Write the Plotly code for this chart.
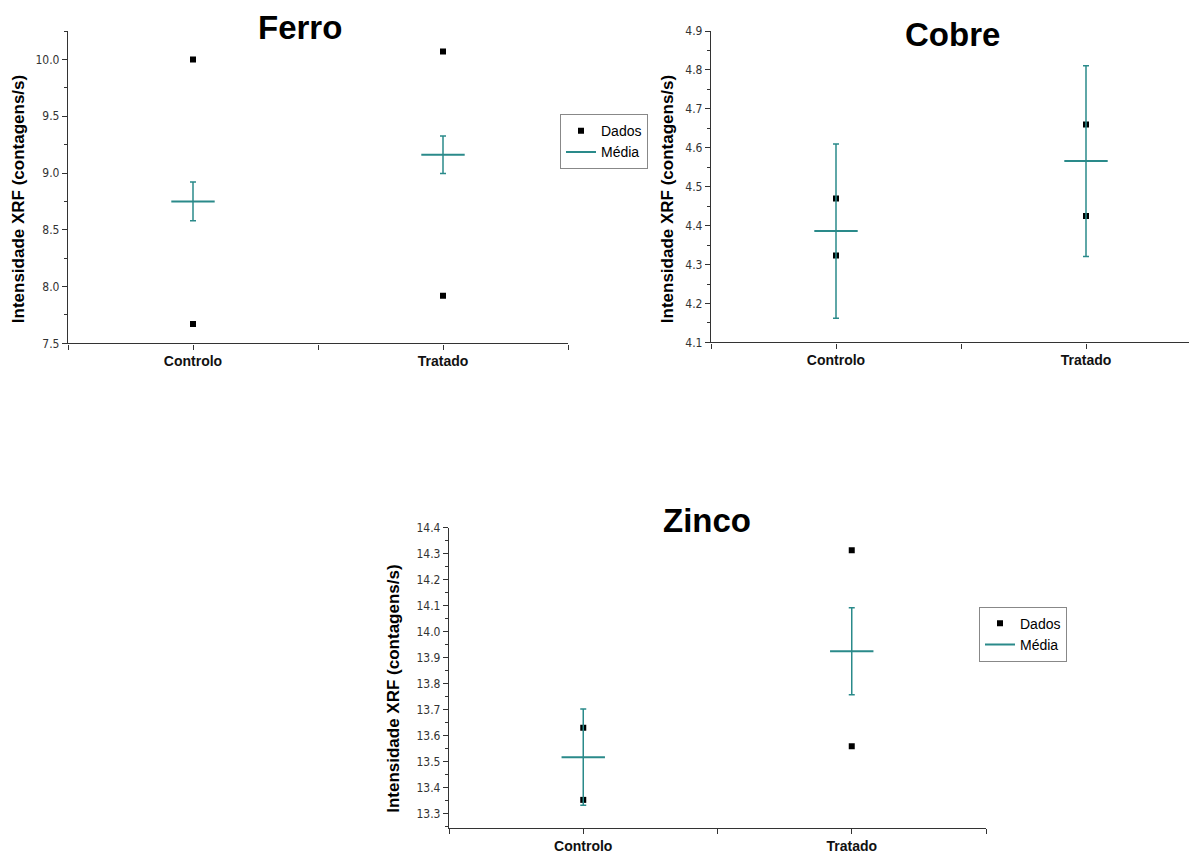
import plotly.graph_objects as go

W, H = 1189, 854

categories = ["Controlo", "Tratado"]

# Ferro
ferro_dados = [[10.00, 7.67], [10.07, 7.92]]
ferro_media = [8.75, 9.16]
ferro_erro = [0.17, 0.165]

# Cobre
cobre_dados = [[4.470, 4.323], [4.660, 4.425]]
cobre_media = [4.386, 4.566]
cobre_erro = [0.224, 0.245]

# Zinco
zinco_dados = [[13.631, 13.354], [14.313, 13.560]]
zinco_media = [13.518, 13.925]
zinco_erro = [0.185, 0.167]

TEAL = "#2a8a8a"
AXC = "#333333"
TICKFONT = dict(family="DejaVu Sans Condensed, Liberation Sans Narrow, sans-serif", size=12, color="#333333")
XTICKFONT = dict(family="Liberation Sans, Arial, sans-serif", size=14, color="#111111", weight="bold")

# the rendered figure occupies image rows 8..846
TOP, PH = 8, 838


def px_x(p):
    return p / W


def px_y(p):
    return 1 - (p - TOP) / PH


fig = go.Figure()

panels = [
    ("Ferro", ferro_dados, ferro_media, ferro_erro, "x", "y", (68, 568), (32, 344), [0.5, 2.5], [7.5, 10.25], 0.5, 0.25, ".1f", "legend"),
    ("Cobre", cobre_dados, cobre_media, cobre_erro, "x2", "y2", (711, 1189), (32, 343), [0.5, 0.5 + (1189 - 711) / 250], [4.1, 4.9], 0.1, 0.05, ".1f", None),
    ("Zinco", zinco_dados, zinco_media, zinco_erro, "x3", "y3", (449, 986), (528, 828), [0.5, 2.5], [13.246, 14.4], 0.1, 0.05, ".1f", "legend2"),
]

xpos = [i + 1 for i in range(len(categories))]

for (name, dados, media, erro, xa, ya, xd, yd, xr, yr, dt, mdt, fmt, leg) in panels:
    px_list, py_list = [], []
    for i, vals in enumerate(dados):
        for v in vals:
            px_list.append(xpos[i])
            py_list.append(v)
    fig.add_trace(go.Scatter(
        x=px_list, y=py_list, mode="markers", xaxis=xa, yaxis=ya,
        marker=dict(symbol="square", size=6, color="black"),
        name="Dados", showlegend=False, hoverinfo="skip",
    ))
    fig.add_trace(go.Scatter(
        x=xpos, y=media, mode="markers", xaxis=xa, yaxis=ya,
        marker=dict(symbol="line-ew", size=31, color=TEAL, line=dict(color=TEAL, width=2)),
        error_y=dict(type="data", array=erro, visible=True, color=TEAL, thickness=1.5, width=3),
        name="Média", showlegend=False, hoverinfo="skip",
    ))
    if leg:
        fig.add_trace(go.Scatter(
            x=[None], y=[None], mode="markers", xaxis=xa, yaxis=ya,
            marker=dict(symbol="square", size=6, color="black"),
            name="Dados", legend=leg,
        ))
        fig.add_trace(go.Scatter(
            x=[None], y=[None], mode="lines", xaxis=xa, yaxis=ya,
            line=dict(color=TEAL, width=2),
            name="Média", legend=leg,
        ))

    xkey = "xaxis" + xa[1:]
    ykey = "yaxis" + ya[1:]
    fig.layout[xkey] = dict(
        domain=[px_x(xd[0]), px_x(xd[1])], range=xr, anchor=ya,
        tickvals=[0.5, 1, 1.5, 2, 2.5],
        ticktext=["", categories[0], "", categories[1], ""],
        ticks="outside", ticklen=5, tickcolor=AXC, tickwidth=1,
        showline=True, linecolor=AXC, linewidth=1.3,
        showgrid=False, zeroline=False, tickfont=XTICKFONT,
        fixedrange=True,
    )
    fig.layout[ykey] = dict(
        domain=[px_y(yd[1]), px_y(yd[0])], range=yr, anchor=xa,
        dtick=dt, tick0=0, tickformat=fmt,
        ticks="outside", ticklen=5, tickcolor=AXC, tickwidth=1,
        minor=dict(dtick=mdt, tick0=0, ticks="outside", ticklen=3, tickcolor=AXC),
        showline=True, linecolor=AXC, linewidth=1.3,
        showgrid=False, zeroline=False, tickfont=TICKFONT,
        fixedrange=True,
    )

titles = [("Ferro", 300, 28), ("Cobre", 952, 35), ("Zinco", 707, 521)]
for t, cx, cy in titles:
    fig.add_annotation(
        text=t, x=px_x(cx), y=px_y(cy), xref="paper", yref="paper",
        xanchor="center", yanchor="middle", showarrow=False,
        font=dict(family="Liberation Sans, Arial, sans-serif", size=33, color="black", weight="bold"),
    )

ytitle = "Intensidade XRF (contagens/s)"
for cx, cy in [(18, 200), (667, 200), (394, 689)]:
    fig.add_annotation(
        text=ytitle, x=px_x(cx), y=px_y(cy), xref="paper", yref="paper",
        xanchor="center", yanchor="middle", showarrow=False, textangle=-90,
        font=dict(family="Liberation Sans, Arial, sans-serif", size=17, color="black", weight="bold"),
    )

legend_style = dict(
    bgcolor="white", bordercolor="#888888", borderwidth=1,
    font=dict(family="Liberation Sans, Arial, sans-serif", size=14, color="black"),
    xanchor="left", yanchor="top", itemwidth=30, tracegroupgap=0,
)
fig.update_layout(
    width=W, height=H, autosize=False,
    margin=dict(l=0, r=0, t=0, b=0),
    paper_bgcolor="white", plot_bgcolor="white",
    showlegend=True,
    legend=dict(x=px_x(560), y=px_y(115), **legend_style),
    legend2=dict(x=px_x(979), y=px_y(607), **legend_style),
)

fig.write_html(
    "out.html",
    config={"displayModeBar": False},
    post_script="document.body.style.margin='0';document.body.style.overflow='hidden';",
)
